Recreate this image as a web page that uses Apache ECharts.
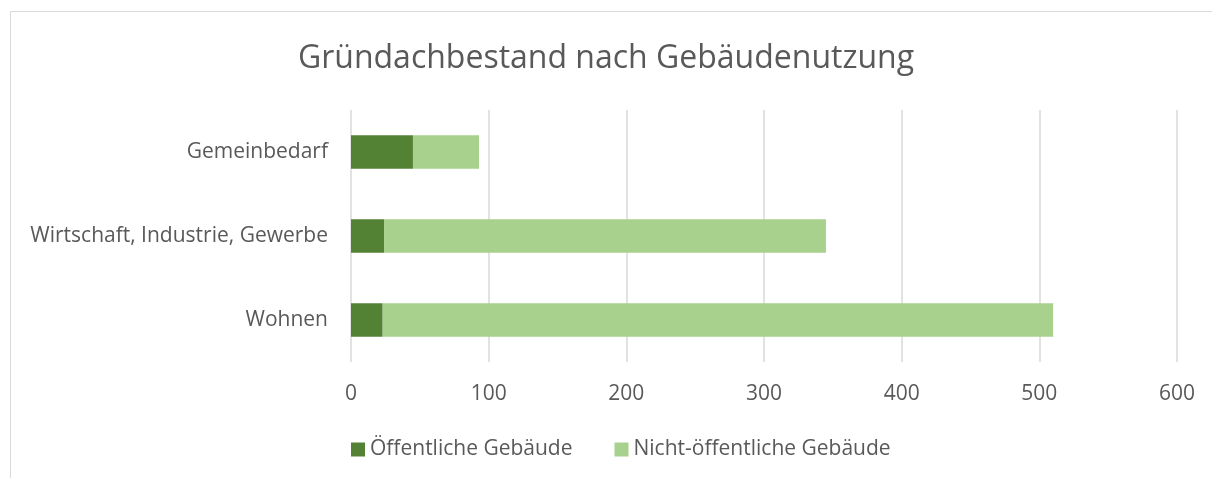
<!DOCTYPE html>
<html lang="de">
<head>
<meta charset="UTF-8">
<title>Gründachbestand nach Gebäudenutzung</title>
<script src="https://cdn.jsdelivr.net/npm/echarts@6.0.0/dist/echarts.min.js"></script>
<style>
    html, body { margin: 0; padding: 0; background: #fff; }
    #chart { width: 1212px; height: 478px; }
</style>
</head>
<body>
<div id="chart"></div>
<script>
    // Kategorien von unten nach oben
    const categories = ['Wohnen', 'Wirtschaft, Industrie, Gewerbe', 'Gemeinbedarf'];
    const oeffentlich = [23, 24, 45];
    const nichtOeffentlich = [487, 321, 48];
    const xTicks = [0, 100, 200, 300, 400, 500, 600];

    const font = '"Open Sans", "Noto Sans", sans-serif';
    const chart = echarts.init(document.getElementById('chart'));
    chart.setOption({
        backgroundColor: '#fff',
        animation: false,
        textStyle: {fontFamily: font},
        title: {
            text: 'Gründachbestand nach Gebäudenutzung',
            left: 'center',
            top: 38,
            textStyle: {fontFamily: font, fontSize: 32, fontWeight: 'normal', color: '#595959'}
        },
        graphic: [{
            type: 'rect',
            shape: {x: 10.5, y: 11.5, width: 1400, height: 600},
            style: {fill: 'none', stroke: '#d9d9d9', lineWidth: 1},
            silent: true
        }],
        legend: {
            left: 346,
            top: 434,
            itemWidth: 14,
            itemHeight: 14,
            itemGap: 42,
            icon: 'rect',
            textStyle: {fontFamily: font, fontSize: 21, color: '#595959'},
            data: ['Öffentliche Gebäude', 'Nicht-öffentliche Gebäude']
        },
        grid: {left: 351, right: 35, top: 110, height: 252, containLabel: false},
        xAxis: {
            type: 'value',
            min: xTicks[0],
            max: xTicks[xTicks.length - 1],
            interval: 100,
            axisLine: {show: false},
            axisTick: {show: false},
            axisLabel: {fontFamily: font, fontSize: 21, color: '#595959', margin: 22},
            splitLine: {lineStyle: {color: '#d9d9d9', width: 1.5}}
        },
        yAxis: {
            type: 'category',
            data: categories,
            axisLine: {show: false},
            axisTick: {show: false},
            axisLabel: {fontFamily: font, fontSize: 21, color: '#595959', margin: 23}
        },
        series: [
            {
                name: 'Öffentliche Gebäude',
                type: 'bar',
                stack: 'gesamt',
                barCategoryGap: '60%',
                data: oeffentlich,
                itemStyle: {color: '#548235'}
            },
            {
                name: 'Nicht-öffentliche Gebäude',
                type: 'bar',
                stack: 'gesamt',
                barCategoryGap: '60%',
                data: nichtOeffentlich,
                itemStyle: {color: '#a9d18e'}
            }
        ]
    });
</script>
</body>
</html>
